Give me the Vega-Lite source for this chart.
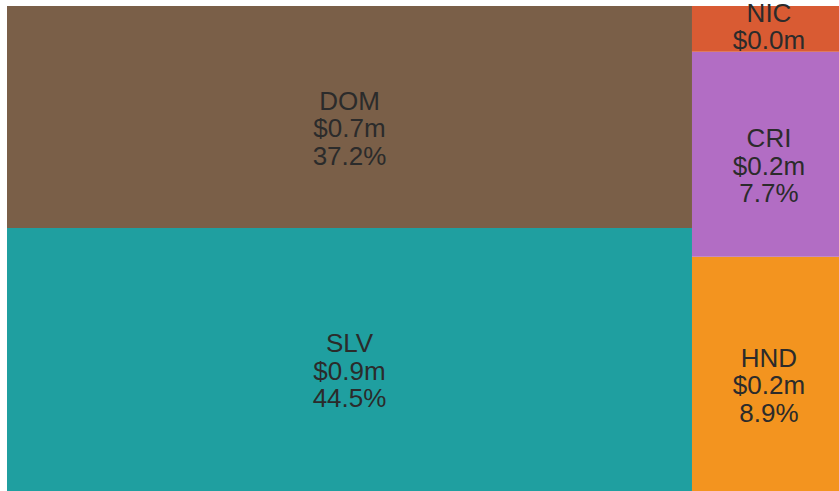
{
  "$schema": "https://vega.github.io/schema/vega-lite/v6.json",
  "width": 832,
  "height": 485,
  "autosize": {"type": "none"},
  "padding": {"left": 7, "top": 6, "right": 0, "bottom": 0},
  "background": "white",
  "config": {"view": {"stroke": null}},
  "data": {
    "values": [
      {"country": "SLV", "group": "A", "value": 44.65, "label": ["SLV", "$0.9m", "44.5%"]},
      {"country": "DOM", "group": "A", "value": 37.68, "label": ["DOM", "$0.7m", "37.2%"]},
      {"country": "HND", "group": "B", "value": 8.53, "label": ["HND", "$0.2m", "8.9%"]},
      {"country": "CRI", "group": "B", "value": 7.47, "label": ["CRI", "$0.2m", "7.7%"]},
      {"country": "NIC", "group": "B", "value": 1.67, "label": ["NIC", "$0.0m", ""]}
    ]
  },
  "transform": [
    {"stack": "value", "groupby": [], "sort": [{"field": "group", "order": "ascending"}, {"field": "value", "order": "descending"}], "as": ["sx0", "sx1"]},
    {"joinaggregate": [{"op": "min", "field": "sx0", "as": "x0"}, {"op": "max", "field": "sx1", "as": "x1"}], "groupby": ["group"]},
    {"stack": "value", "groupby": ["group"], "sort": [{"field": "value", "order": "descending"}], "offset": "normalize", "as": ["y0", "y1"]},
    {"fold": ["x0", "x1"], "as": ["kx", "vx"]},
    {"joinaggregate": [{"op": "mean", "field": "vx", "as": "xm"}], "groupby": ["country"]},
    {"filter": "datum.kx == 'x0'"},
    {"fold": ["y0", "y1"], "as": ["ky", "vy"]},
    {"joinaggregate": [{"op": "mean", "field": "vy", "as": "ym"}], "groupby": ["country"]},
    {"filter": "datum.ky == 'y0'"}
  ],
  "layer": [
    {
      "mark": {"type": "rect", "strokeWidth": 0},
      "encoding": {
        "x": {"field": "x0", "type": "quantitative", "scale": {"domain": [0, 100], "nice": false, "zero": false}, "axis": null},
        "x2": {"field": "x1"},
        "y": {"field": "y0", "type": "quantitative", "scale": {"domain": [0, 1], "nice": false}, "axis": null},
        "y2": {"field": "y1"},
        "color": {
          "field": "country",
          "type": "nominal",
          "scale": {"domain": ["SLV", "DOM", "HND", "CRI", "NIC"], "range": ["#1f9fa0", "#7a5f48", "#f3941f", "#b26dc4", "#d95b33"]},
          "legend": null
        }
      }
    },
    {
      "transform": [{"filter": "datum.group == 'A'"}],
      "mark": {"type": "text", "align": "center", "baseline": "middle", "dy": -15, "fontSize": 26, "lineHeight": 27.5, "font": "Liberation Sans", "color": "#2b2b2b"},
      "encoding": {
        "x": {"field": "xm", "type": "quantitative"},
        "y": {"field": "ym", "type": "quantitative"},
        "text": {"field": "label"}
      }
    },
    {
      "transform": [{"filter": "datum.group == 'B'"}],
      "mark": {"type": "text", "align": "center", "baseline": "middle", "dx": 3.5, "dy": -15, "fontSize": 26, "lineHeight": 27.5, "font": "Liberation Sans", "color": "#2b2b2b"},
      "encoding": {
        "x": {"field": "xm", "type": "quantitative"},
        "y": {"field": "ym", "type": "quantitative"},
        "text": {"field": "label"}
      }
    }
  ]
}
